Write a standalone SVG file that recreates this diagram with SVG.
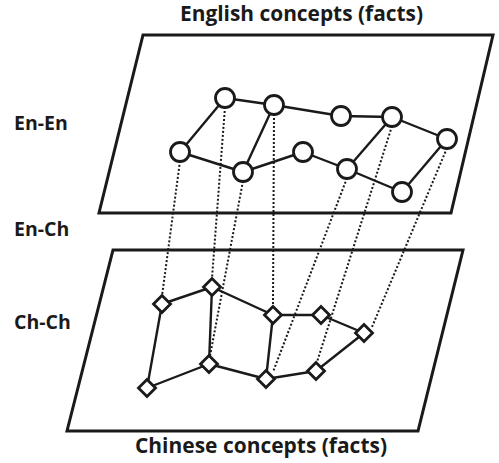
<svg xmlns="http://www.w3.org/2000/svg" width="499" height="463" viewBox="0 0 499 463">
<style>
.plane{fill:none;stroke:#1a1a1a;stroke-width:3;stroke-linejoin:miter}
.edge{stroke:#1a1a1a;stroke-width:2.4;fill:none}
.dot{stroke:#1a1a1a;stroke-width:2;stroke-dasharray:2,2;fill:none}
.c{fill:#fff;stroke:#1a1a1a;stroke-width:2.8}
.t{font-family:"Open Sans","Liberation Sans",sans-serif;font-weight:bold;fill:#1a1a1a}
</style>
<rect width="499" height="463" fill="#fff"/>
<g id="planes">
<polygon class="plane" points="143,35 493,35 451,213 99,213"/>
<polygon class="plane" points="113,250 463,250 418,431 67,431"/>
</g>
<g id="labels">
<text class="t" x="180" y="21" font-size="20.5" textLength="243" lengthAdjust="spacingAndGlyphs">English concepts (facts)</text>
<text class="t" x="135" y="453" font-size="20.5" textLength="252" lengthAdjust="spacingAndGlyphs">Chinese concepts (facts)</text>
<text class="t" x="14" y="130" font-size="19.5">En-En</text>
<text class="t" x="14" y="236" font-size="19.5">En-Ch</text>
<text class="t" x="14" y="329" font-size="19.5">Ch-Ch</text>
</g>
<g id="connectors">
<line class="dot" x1="180" y1="161" x2="162" y2="296"/>
<line class="dot" x1="225" y1="107" x2="212" y2="278"/>
<line class="dot" x1="243" y1="181" x2="210" y2="356"/>
<line class="dot" x1="274" y1="114" x2="273" y2="306"/>
<line class="dot" x1="347" y1="178" x2="273" y2="372"/>
<line class="dot" x1="392" y1="126" x2="317" y2="362"/>
<line class="dot" x1="447" y1="148" x2="372" y2="327"/>
<line class="edge" x1="225" y1="98" x2="274" y2="105"/>
<line class="edge" x1="274" y1="105" x2="341" y2="116"/>
<line class="edge" x1="341" y1="116" x2="392" y2="117"/>
<line class="edge" x1="392" y1="117" x2="447" y2="139"/>
<line class="edge" x1="225" y1="98" x2="180" y2="152"/>
<line class="edge" x1="180" y1="152" x2="243" y2="172"/>
<line class="edge" x1="274" y1="105" x2="243" y2="172"/>
<line class="edge" x1="243" y1="172" x2="303" y2="152"/>
<line class="edge" x1="303" y1="152" x2="347" y2="169"/>
<line class="edge" x1="347" y1="169" x2="392" y2="117"/>
<line class="edge" x1="347" y1="169" x2="402" y2="192"/>
<line class="edge" x1="402" y1="192" x2="447" y2="139"/>
<line class="edge" x1="162" y1="304" x2="212" y2="287"/>
<line class="edge" x1="212" y1="287" x2="273" y2="315"/>
<line class="edge" x1="273" y1="315" x2="321" y2="315"/>
<line class="edge" x1="321" y1="315" x2="364" y2="333"/>
<line class="edge" x1="162" y1="304" x2="147" y2="388"/>
<line class="edge" x1="147" y1="388" x2="209" y2="364"/>
<line class="edge" x1="212" y1="287" x2="209" y2="364"/>
<line class="edge" x1="209" y1="364" x2="266" y2="379"/>
<line class="edge" x1="273" y1="315" x2="266" y2="379"/>
<line class="edge" x1="266" y1="379" x2="316" y2="371"/>
<line class="edge" x1="316" y1="371" x2="364" y2="333"/>
</g>
<g id="en-nodes">
<circle id="e1" class="c" cx="225" cy="98" r="9.5"/>
<circle id="e2" class="c" cx="274" cy="105" r="9.5"/>
<circle id="e3" class="c" cx="341" cy="116" r="9.5"/>
<circle id="e4" class="c" cx="392" cy="117" r="9.5"/>
<circle id="e5" class="c" cx="447" cy="139" r="9.5"/>
<circle id="e6" class="c" cx="180" cy="152" r="9.5"/>
<circle id="e7" class="c" cx="243" cy="172" r="9.5"/>
<circle id="e8" class="c" cx="303" cy="152" r="9.5"/>
<circle id="e9" class="c" cx="347" cy="169" r="9.5"/>
<circle id="e10" class="c" cx="402" cy="192" r="9.5"/>
</g>
<g id="ch-nodes">
<defs><polygon id="dm" points="0,-8.5 8.5,0 0,8.5 -8.5,0"/></defs>
<g id="d1"><use href="#dm" class="c" x="162" y="304"/></g>
<g id="d2"><use href="#dm" class="c" x="212" y="287"/></g>
<g id="d3"><use href="#dm" class="c" x="273" y="315"/></g>
<g id="d4"><use href="#dm" class="c" x="321" y="315"/></g>
<g id="d5"><use href="#dm" class="c" x="364" y="333"/></g>
<g id="d6"><use href="#dm" class="c" x="147" y="388"/></g>
<g id="d7"><use href="#dm" class="c" x="209" y="364"/></g>
<g id="d8"><use href="#dm" class="c" x="266" y="379"/></g>
<g id="d9"><use href="#dm" class="c" x="316" y="371"/></g>
</g>
</svg>
